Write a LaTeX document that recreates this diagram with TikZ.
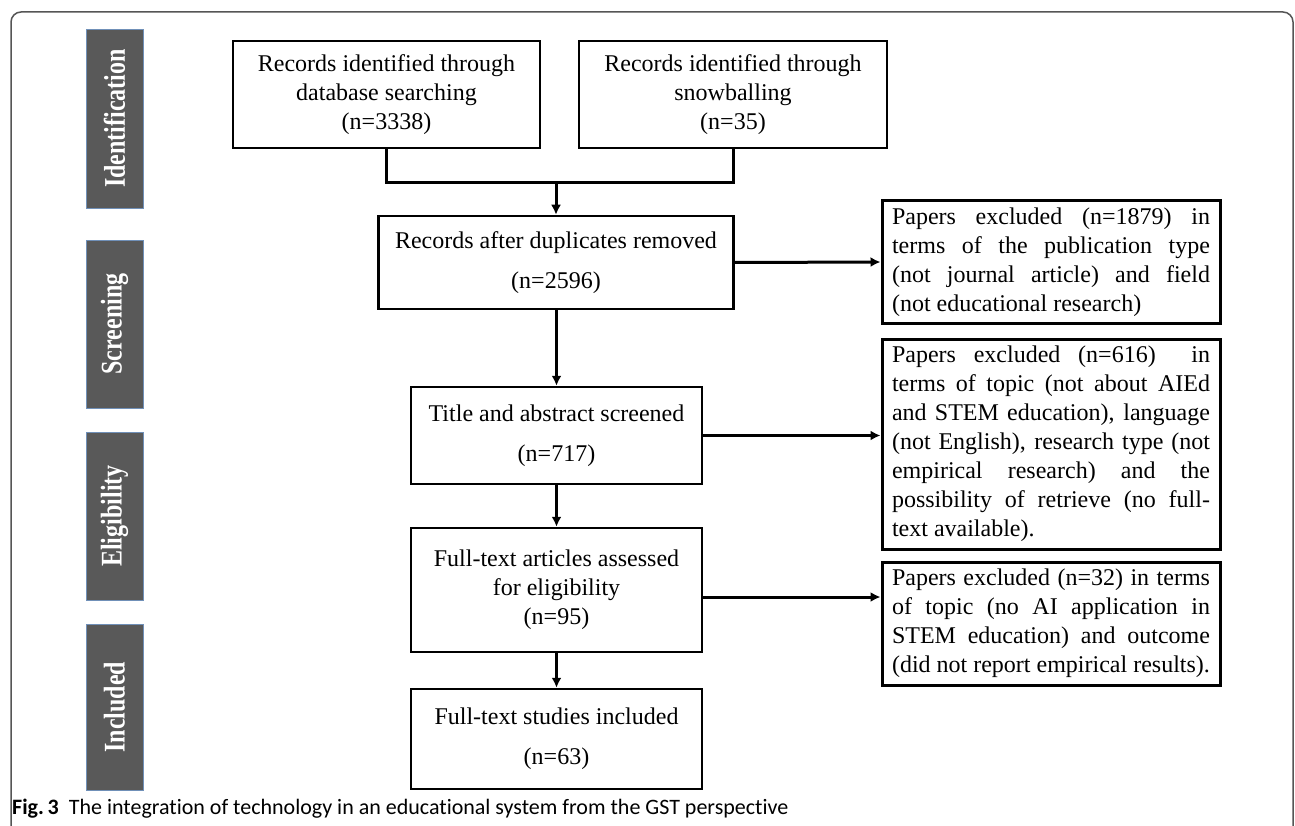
\documentclass[tikz,border=0pt]{standalone}
\usepackage{fontspec}
\setmainfont{Liberation Serif}
\newfontfamily\capfont[Ligatures=NoCommon]{Carlito}
\usepackage{xcolor}
\usetikzlibrary{arrows.meta,calc,positioning}
\definecolor{bargray}{HTML}{595959}
\definecolor{barblue}{HTML}{7090B8}
\definecolor{framegray}{HTML}{555555}
\tikzset{%
	block/.style  = {draw, rectangle, line width=2.5pt, inner sep=0pt, align=center, font=\fontsize{24}{29}\selectfont},
	note/.style   = {draw, rectangle, line width=3pt, text width=318pt, inner xsep=10pt, inner ysep=0pt, align=justify, font=\fontsize{24}{29}\selectfont},
	phase/.style  = {draw=barblue, fill=bargray, line width=0.8pt, rotate=90, inner sep=0pt, text=white, font=\fontsize{30}{30}\selectfont\bfseries},
	link/.style   = {line width=3pt},
	arrow/.style  = {line width=3pt, -{Latex[length=10pt,width=10pt]}},
}

\begin{document}
\begin{tikzpicture}[x=1pt,y=-1pt]
	\useasboundingbox (0,0) rectangle (1295,826);
	\draw[framegray, line width=1.5pt, rounded corners=10pt] (11,826) -- (11,12) -- (1293,12) -- (1293,826);
	% phase bars
	\node[phase, minimum width=179, minimum height=57] (ident) at (114.5,118.5) {\scalebox{0.8}[1]{Identification}};
	\node[phase, minimum width=168, minimum height=57] (screen) at (114.5,324) {\scalebox{0.8}[1]{Screening}};
	\node[phase, minimum width=168, minimum height=57] (elig) at (114.5,516) {\scalebox{0.8}[1]{Eligibility}};
	\node[phase, minimum width=166, minimum height=57] (incl) at (114.5,707) {\scalebox{0.8}[1]{Included}};
	% main column
	\node[block, minimum width=307, minimum height=107] (db) at (386.5,94.5) {Records identified through\\database searching\\(n=3338)};
	\node[block, minimum width=308, minimum height=107] (snow) at (733,94.5) {Records identified through\\snowballing\\(n=35)};
	\node[block, minimum width=355, minimum height=93] (dup) at (556,262.5) {Records after duplicates removed\\[11pt](n=2596)};
	\node[block, minimum width=291, minimum height=97] (title) at (556.5,435.5) {Title and abstract screened\\[11pt](n=717)};
	\node[block, minimum width=291, minimum height=124] (full) at (556.5,590) {Full-text articles assessed\\for eligibility\\(n=95)};
	\node[block, minimum width=291, minimum height=100] (incl2) at (556.5,739) {Full-text studies included\\[11pt](n=63)};
	% excluded
	\node[note, minimum height=122] (ex1) at (1051,262) {Papers excluded (n=1879) in\linebreak terms of the publication type\linebreak (not journal article) and field\linebreak (not educational research)};
	\node[note, minimum height=210] (ex2) at (1051,444) {Papers excluded (n=616)~ in\linebreak terms of topic (not about AIEd\linebreak and STEM education), language\linebreak (not English), research type (not\linebreak empirical research) and the\linebreak possibility of retrieve (no full-\linebreak text available).};
	\node[note, minimum height=123] (ex3) at (1051,623.5) {Papers excluded (n=32) in terms\linebreak of topic (no AI application in\linebreak STEM education) and outcome\linebreak (did not report empirical results).};
	% connectors
	\coordinate (join) at (556,183);
	\draw[link] (db.south) |- (join) -| (snow.south);
	\draw[arrow] (join) -- (dup.north);
	\draw[arrow] (dup.south -| title.north) -- (title.north);
	\draw[arrow] (title) -- (full);
	\draw[arrow] (full) -- (incl2);
	\draw[arrow] (dup.east) -- (ex1.west);
	\draw[arrow] (title.east) -- (title.east -| ex2.west);
	\draw[arrow] ([yshift=-7pt]full.east) coordinate (a3) -- (a3 -| ex3.west);
	% caption
	\node[anchor=base west, inner sep=0pt, font=\capfont\fontsize{22}{22}\selectfont] (caption) at (12,814) {\textbf{Fig.\,3}\hspace{10pt}The integration of technology in an educational system from the GST perspective};
\end{tikzpicture}
\end{document}
